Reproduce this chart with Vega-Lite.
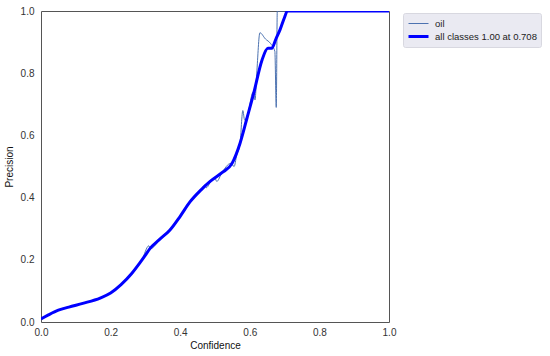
{
  "$schema": "https://vega.github.io/schema/vega-lite/v6.json",
  "autosize": {"type": "none"},
  "padding": {"left": 41, "top": 11, "right": 161, "bottom": 34},
  "width": 348,
  "height": 311,
  "background": "white",
  "config": {
    "view": {"stroke": "#555555", "strokeWidth": 1},
    "font": "Liberation Sans",
    "axis": {"grid": false, "ticks": false, "domain": false, "labelFlush": false, "labelFontSize": 10, "labelColor": "#333333", "titleFontSize": 10, "titleFontWeight": "normal", "titleColor": "#111111"}
  },
  "datasets": {
    "pts": [
      {"c": 0.0, "p": 0.01, "s": "oil"},
      {"c": 0.02, "p": 0.022, "s": "oil"},
      {"c": 0.05, "p": 0.038, "s": "oil"},
      {"c": 0.1, "p": 0.054, "s": "oil"},
      {"c": 0.17, "p": 0.077, "s": "oil"},
      {"c": 0.2, "p": 0.093, "s": "oil"},
      {"c": 0.23, "p": 0.12, "s": "oil"},
      {"c": 0.26, "p": 0.155, "s": "oil"},
      {"c": 0.29, "p": 0.2, "s": "oil"},
      {"c": 0.31, "p": 0.245, "s": "oil"},
      {"c": 0.315, "p": 0.236, "s": "oil"},
      {"c": 0.34, "p": 0.262, "s": "oil"},
      {"c": 0.37, "p": 0.295, "s": "oil"},
      {"c": 0.4, "p": 0.34, "s": "oil"},
      {"c": 0.43, "p": 0.39, "s": "oil"},
      {"c": 0.44, "p": 0.4, "s": "oil"},
      {"c": 0.445, "p": 0.405, "s": "oil"},
      {"c": 0.46, "p": 0.425, "s": "oil"},
      {"c": 0.47, "p": 0.44, "s": "oil"},
      {"c": 0.475, "p": 0.432, "s": "oil"},
      {"c": 0.49, "p": 0.455, "s": "oil"},
      {"c": 0.5, "p": 0.462, "s": "oil"},
      {"c": 0.505, "p": 0.452, "s": "oil"},
      {"c": 0.52, "p": 0.48, "s": "oil"},
      {"c": 0.545, "p": 0.51, "s": "oil"},
      {"c": 0.555, "p": 0.5, "s": "oil"},
      {"c": 0.562, "p": 0.535, "s": "oil"},
      {"c": 0.572, "p": 0.575, "s": "oil"},
      {"c": 0.58, "p": 0.68, "s": "oil"},
      {"c": 0.585, "p": 0.65, "s": "oil"},
      {"c": 0.592, "p": 0.66, "s": "oil"},
      {"c": 0.61, "p": 0.74, "s": "oil"},
      {"c": 0.615, "p": 0.714, "s": "oil"},
      {"c": 0.62, "p": 0.8, "s": "oil"},
      {"c": 0.629, "p": 0.93, "s": "oil"},
      {"c": 0.645, "p": 0.91, "s": "oil"},
      {"c": 0.66, "p": 0.895, "s": "oil"},
      {"c": 0.672, "p": 0.87, "s": "oil"},
      {"c": 0.676, "p": 0.69, "s": "oil"},
      {"c": 0.679, "p": 1.0, "s": "oil"},
      {"c": 1.0, "p": 1.0, "s": "oil"},
      {"c": 0.0, "p": 0.01, "s": "all classes 1.00 at 0.708"},
      {"c": 0.02, "p": 0.022, "s": "all classes 1.00 at 0.708"},
      {"c": 0.05, "p": 0.038, "s": "all classes 1.00 at 0.708"},
      {"c": 0.08, "p": 0.048, "s": "all classes 1.00 at 0.708"},
      {"c": 0.12, "p": 0.06, "s": "all classes 1.00 at 0.708"},
      {"c": 0.17, "p": 0.077, "s": "all classes 1.00 at 0.708"},
      {"c": 0.2, "p": 0.093, "s": "all classes 1.00 at 0.708"},
      {"c": 0.23, "p": 0.12, "s": "all classes 1.00 at 0.708"},
      {"c": 0.26, "p": 0.155, "s": "all classes 1.00 at 0.708"},
      {"c": 0.284, "p": 0.19, "s": "all classes 1.00 at 0.708"},
      {"c": 0.3, "p": 0.215, "s": "all classes 1.00 at 0.708"},
      {"c": 0.313, "p": 0.236, "s": "all classes 1.00 at 0.708"},
      {"c": 0.34, "p": 0.265, "s": "all classes 1.00 at 0.708"},
      {"c": 0.37, "p": 0.295, "s": "all classes 1.00 at 0.708"},
      {"c": 0.4, "p": 0.34, "s": "all classes 1.00 at 0.708"},
      {"c": 0.428, "p": 0.386, "s": "all classes 1.00 at 0.708"},
      {"c": 0.46, "p": 0.425, "s": "all classes 1.00 at 0.708"},
      {"c": 0.486, "p": 0.452, "s": "all classes 1.00 at 0.708"},
      {"c": 0.52, "p": 0.48, "s": "all classes 1.00 at 0.708"},
      {"c": 0.549, "p": 0.51, "s": "all classes 1.00 at 0.708"},
      {"c": 0.572, "p": 0.575, "s": "all classes 1.00 at 0.708"},
      {"c": 0.592, "p": 0.656, "s": "all classes 1.00 at 0.708"},
      {"c": 0.61, "p": 0.73, "s": "all classes 1.00 at 0.708"},
      {"c": 0.635, "p": 0.842, "s": "all classes 1.00 at 0.708"},
      {"c": 0.652, "p": 0.88, "s": "all classes 1.00 at 0.708"},
      {"c": 0.663, "p": 0.88, "s": "all classes 1.00 at 0.708"},
      {"c": 0.675, "p": 0.91, "s": "all classes 1.00 at 0.708"},
      {"c": 0.687, "p": 0.94, "s": "all classes 1.00 at 0.708"},
      {"c": 0.7, "p": 0.98, "s": "all classes 1.00 at 0.708"},
      {"c": 0.708, "p": 1.0, "s": "all classes 1.00 at 0.708"},
      {"c": 1.0, "p": 1.0, "s": "all classes 1.00 at 0.708"}
    ]
  },
  "data": {"name": "pts"},
  "mark": {"type": "line", "clip": true, "interpolate": "monotone"},
  "encoding": {
    "x": {"field": "c", "type": "quantitative", "scale": {"domain": [0, 1], "nice": false, "zero": false}, "axis": {"title": "Confidence", "values": [0, 0.2, 0.4, 0.6, 0.8, 1.0], "format": ".1f", "labelPadding": 5, "titlePadding": 3}},
    "y": {"field": "p", "type": "quantitative", "scale": {"domain": [0, 1], "nice": false}, "axis": {"title": "Precision", "values": [0, 0.2, 0.4, 0.6, 0.8, 1.0], "format": ".1f", "labelPadding": 7, "titlePadding": 6}},
    "order": {"field": "c", "type": "quantitative"},
    "color": {"field": "s", "type": "nominal", "scale": {"domain": ["oil", "all classes 1.00 at 0.708"], "range": ["#4c72b0", "#0000ff"]}, "legend": {"title": null, "orient": "none", "legendX": 362, "legendY": 2, "symbolType": "stroke", "symbolSize": 400, "clipHeight": 13, "labelFontSize": 9.5, "labelColor": "#222222", "fillColor": "#eaeaf2", "strokeColor": "#d8d8e0", "padding": 4, "cornerRadius": 2, "rowPadding": 0, "labelOffset": 5}},
    "strokeWidth": {"field": "s", "type": "nominal", "scale": {"domain": ["oil", "all classes 1.00 at 0.708"], "range": [1, 3]}, "legend": null}
  }
}
